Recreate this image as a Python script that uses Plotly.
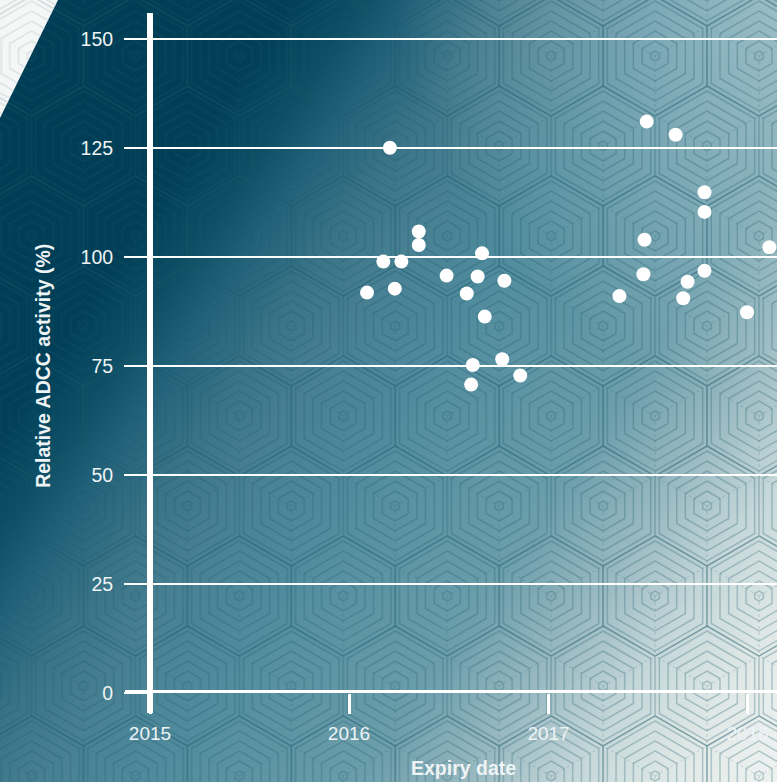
import base64
import math
import plotly.graph_objects as go

# ---------------- data ----------------
expiry_dates = [
    "2016-02-03", "2016-03-04", "2016-03-16", "2016-03-25", "2016-04-06",
    "2016-05-08", "2016-05-08", "2016-06-28", "2016-08-04", "2016-08-24",
    "2016-09-01", "2016-09-06", "2016-08-15", "2016-08-12", "2016-10-08",
    "2016-10-12", "2016-11-10",
    "2017-05-11", "2017-06-24", "2017-06-26", "2017-06-30", "2017-08-22",
    "2017-09-05", "2017-09-13", "2017-10-14", "2017-10-14", "2017-10-14",
    "2017-12-31", "2018-02-10",
]
adcc_activity = [
    91.8, 98.9, 125.0, 92.7, 98.9,
    105.8, 102.7, 95.7, 91.6, 95.5,
    100.8, 86.3, 75.2, 70.7, 76.5,
    94.5, 72.8,
    91.0, 96.0, 103.9, 131.0, 128.0,
    90.5, 94.3, 114.8, 110.3, 96.8,
    87.3, 102.2,
]
y_tick_values = [0, 25, 50, 75, 100, 125, 150]
x_tick_values = ["2015-01-01", "2016-01-01", "2017-01-01", "2018-01-01"]
x_tick_labels = ["2015", "2016", "2017", "2018"]
x_range = ["2015-01-01", "2018-02-24"]
y_range = [0, 155.9]
y_title = "Relative ADCC activity (%)"
x_title = "Expiry date"

# ---------------- geometry ----------------
W, H = 777, 782
ML, MR, MT, MB = 150, 0, 13, 89
PW, PH = W - ML - MR, H - MT - MB

# ---------------- decorative background (gradient + hex pattern) ----------------
def hex_pts(cx, cy, r):
    return " ".join(
        f"{cx + r*math.cos(math.radians(a)):.2f},{cy + r*math.sin(math.radians(a)):.2f}"
        for a in (-90, -30, 30, 90, 150, 210)
    )

R = 60.0
tw = math.sqrt(3) * R
th = 3 * R
centers = [(0, 0), (tw, 0), (tw / 2, 1.5 * R), (0, th), (tw, th)]

def tile(stroke, op, dash_op):
    parts = []
    for cx, cy in centers:
        for r in (5, 15, 25, 35, 45, 55, 60):
            parts.append(
                f'<polygon points="{hex_pts(cx, cy, r)}" fill="none" stroke="{stroke}" '
                f'stroke-width="1.5" stroke-opacity="{op}"/>'
            )
        for a in (-30, 90, 210):
            x2 = cx + R * math.cos(math.radians(a))
            y2 = cy + R * math.sin(math.radians(a))
            parts.append(
                f'<line x1="{cx:.2f}" y1="{cy:.2f}" x2="{x2:.2f}" y2="{y2:.2f}" stroke="{stroke}" '
                f'stroke-width="0.9" stroke-dasharray="3,3" stroke-opacity="{dash_op}"/>'
            )
    return "".join(parts)

lin_stops = [
    (0.000, "#003d55"), (0.218, "#003f57"), (0.273, "#0e4f66"), (0.316, "#22627a"),
    (0.373, "#3a7487"), (0.423, "#467f91"), (0.505, "#4f8b9d"), (0.670, "#6c9eab"),
    (0.760, "#9dbcc3"), (0.830, "#c6d8da"), (0.910, "#e2eae8"), (1.000, "#f1f5f2"),
]
lin_svg = "".join(f'<stop offset="{o}" stop-color="{c}"/>' for o, c in lin_stops)

svg = f'''<svg xmlns="http://www.w3.org/2000/svg" width="{W}" height="{H}" viewBox="0 0 {W} {H}" preserveAspectRatio="none">
<defs>
<linearGradient id="g" gradientUnits="userSpaceOnUse" x1="0" y1="0" x2="911" y2="617">{lin_svg}</linearGradient>
<radialGradient id="glow" gradientUnits="userSpaceOnUse" cx="850" cy="-50" r="460">
<stop offset="0" stop-color="#e6eff0" stop-opacity="0.55"/><stop offset="1" stop-color="#e6eff0" stop-opacity="0"/>
</radialGradient>
<pattern id="hx" patternUnits="userSpaceOnUse" x="31.5" y="56" width="{tw:.3f}" height="{th:.3f}">{tile("#1a5468", 0.28, 0.22)}</pattern>
<pattern id="hx2" patternUnits="userSpaceOnUse" x="31.5" y="56" width="{tw:.3f}" height="{th:.3f}">{tile("#c9d3d6", 0.6, 0.4)}</pattern>
</defs>
<rect x="0" y="0" width="{W}" height="{H}" fill="url(#g)"/>
<rect x="0" y="0" width="{W}" height="{H}" fill="url(#glow)"/>
<rect x="0" y="0" width="{W}" height="{H}" fill="url(#hx)"/>
<polygon points="0,0 58,0 0,118" fill="#f5f7f7"/>
<polygon points="0,0 58,0 0,118" fill="url(#hx2)"/>
</svg>'''
bg_src = "data:image/svg+xml;base64," + base64.b64encode(svg.encode("utf-8")).decode("ascii")

# ---------------- figure ----------------
FONT = "Liberation Sans, Arial, Helvetica, sans-serif"
TXT = "#eef3f5"

fig = go.Figure()
fig.add_trace(go.Scatter(
    x=expiry_dates, y=adcc_activity, mode="markers",
    marker=dict(size=14, color="white", line=dict(width=0)),
    hoverinfo="x+y", showlegend=False,
))

fig.update_layout(
    width=W, height=H,
    margin=dict(l=ML, r=MR, t=MT, b=MB, pad=0),
    paper_bgcolor="#3d7487",
    plot_bgcolor="rgba(0,0,0,0)",
    font=dict(family=FONT, color=TXT, size=19),
    images=[dict(
        source=bg_src, xref="paper", yref="paper",
        x=-ML / PW, y=1 + MT / PH, sizex=W / PW, sizey=H / PH,
        xanchor="left", yanchor="top", sizing="stretch", layer="below",
    )],
    xaxis=dict(
        type="date", range=x_range,
        tickmode="array", tickvals=x_tick_values, ticktext=x_tick_labels,
        ticks="outside", ticklen=20, tickwidth=3, tickcolor="white",
        showgrid=False, zeroline=False, showline=False,
        tickfont=dict(family=FONT, size=19, color=TXT),
        ticklabelstandoff=3,
        fixedrange=True,
    ),
    yaxis=dict(
        range=y_range,
        tickmode="array", tickvals=y_tick_values,
        ticks="outside", ticklen=25, tickwidth=2, tickcolor="white",
        showgrid=True, gridcolor="white", gridwidth=2,
        zeroline=False, showline=False,
        tickfont=dict(family=FONT, size=19.5, color=TXT),
        ticklabelstandoff=7,
        fixedrange=True,
    ),
    annotations=[
        dict(
            text=f"<b>{y_title}</b>", textangle=-90,
            xref="paper", yref="y", x=(43 - ML) / PW, y=75,
            xanchor="center", yanchor="middle", showarrow=False,
            font=dict(family=FONT, size=19.5, color=TXT),
        ),
        dict(
            text=f"<b>{x_title}</b>",
            xref="paper", yref="paper", x=0.5, y=-(781 - MT - PH) / PH,
            xanchor="center", yanchor="bottom", showarrow=False,
            font=dict(family=FONT, size=19.5, color=TXT),
        ),
    ],
    shapes=[
        dict(type="line", xref="paper", yref="y", x0=-25 / PW, x1=1.02, y0=0, y1=0,
             line=dict(color="white", width=6), layer="above"),
        dict(type="line", xref="paper", yref="paper", x0=0, x1=0, y0=-20 / PH, y1=1,
             line=dict(color="white", width=6), layer="above"),
    ],
)

fig.write_html(
    "out.html",
    config={"displayModeBar": False},
    post_script=(
        "document.documentElement.style.overflow='hidden';"
        "document.body.style.margin='0px';document.body.style.overflow='hidden';"
        "window.scrollTo(0,0);"
    ),
)
